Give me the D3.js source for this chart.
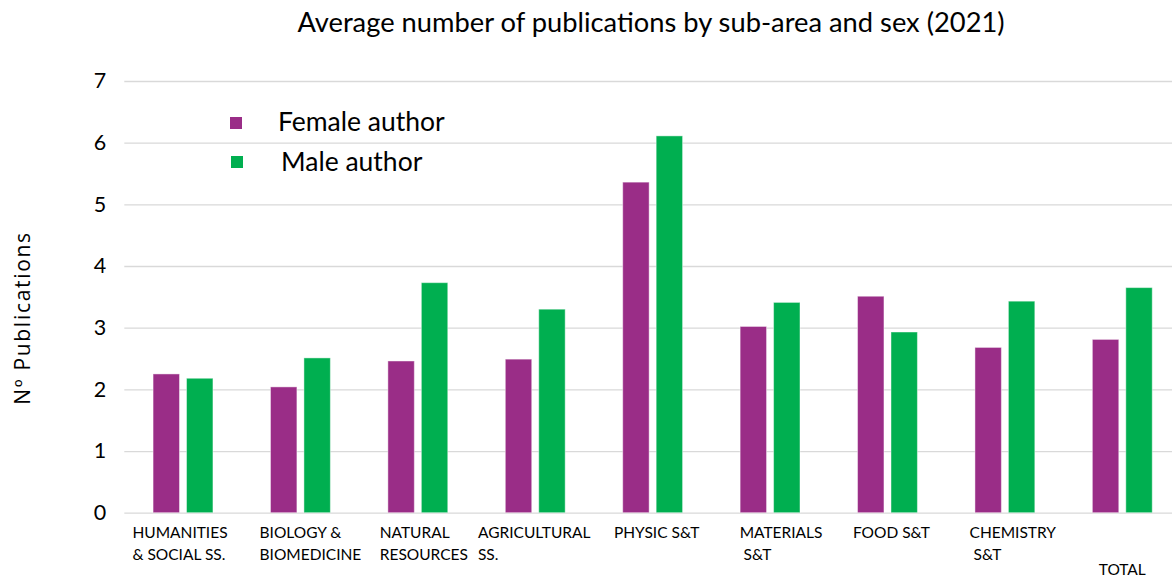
<!DOCTYPE html>
<html>
<head>
<meta charset="utf-8">
<script src="https://cdn.jsdelivr.net/npm/d3@7"></script>
<style>
html,body{margin:0;padding:0;background:#fff;overflow:hidden;}
text{font-family:Lato,"Open Sans",sans-serif;fill:#000;}
</style>
</head>
<body>
<svg id="chart" width="1172" height="578"></svg>
<script>
const categories = ["HUMANITIES\n& SOCIAL SS.","BIOLOGY &\nBIOMEDICINE","NATURAL\nRESOURCES","AGRICULTURAL\nSS.","PHYSIC S&T","MATERIALS\n S&T","FOOD S&T","CHEMISTRY\n S&T","TOTAL"];
const femaleValues = [2.25, 2.04, 2.46, 2.49, 5.36, 3.02, 3.51, 2.68, 2.81];
const maleValues   = [2.18, 2.51, 3.73, 3.30, 6.11, 3.41, 2.93, 3.43, 3.65];
const seriesNames = ["Female author","Male author"];
const yTicks = [0,1,2,3,4,5,6,7];
const titleText = "Average number of publications by sub-area and sex (2021)";
const yAxisTitle = "Nº Publications";

// layout-only tweaks (horizontal nudge of each category label block, px)
const labelShift = [-3, 10, 6, -1, 4, 11, 4, 8, 0];

const colors = ["#9A2D87","#00AF50"];
const svg = d3.select("#chart");
const W = 1172, H = 578;
const mLeft = 124.3, mRight = 1181, mTop = 81, mBottom = 512.7;

const x0 = d3.scaleBand().domain(categories).range([mLeft, mRight]).paddingInner(0.49).paddingOuter(0.245);
const x1 = d3.scaleBand().domain(seriesNames).range([0, x0.bandwidth()]).paddingInner(0.21).paddingOuter(0);
const y = d3.scaleLinear().domain([0,7]).range([mBottom, mTop]);

// gridlines
const yAxis = d3.axisLeft(y).tickValues(yTicks).tickSize(-(W - mLeft)).tickFormat(d3.format("d"));
const gy = svg.append("g").attr("transform",`translate(${mLeft},0)`).call(yAxis);
gy.select(".domain").remove();
gy.selectAll(".tick line").attr("stroke","#d9d9d9").attr("stroke-width",1.3);
gy.selectAll(".tick text").attr("x",-18).attr("font-size","21.5px").attr("fill","#000");

// bars
const data = categories.map((c,i)=>({cat:c, i, vals:[femaleValues[i], maleValues[i]]}));
const groups = svg.append("g").selectAll("g").data(data).join("g")
  .attr("transform", d=>`translate(${x0(d.cat)},0)`);
groups.selectAll("rect").data(d=>d.vals.map((v,j)=>({v, s:seriesNames[j], j})))
  .join("rect")
  .attr("x", d=>x1(d.s))
  .attr("y", d=>y(d.v))
  .attr("width", x1.bandwidth())
  .attr("height", d=>y(0)-y(d.v))
  .attr("fill", d=>colors[d.j])
  .attr("stroke", "rgba(255,255,255,0.45)")
  .attr("stroke-width", 1);

// x labels
const xl = svg.append("g");
data.forEach(d=>{
  const lines = d.cat.split("\n");
  const g = xl.append("g");
  const isTotal = d.cat === "TOTAL";
  const t = g.append("text").attr("font-size","15.5px").attr("xml:space","preserve").style("white-space","pre");
  lines.forEach((ln,i)=>{
    t.append("tspan").attr("x",0).attr("y", (isTotal ? 575 : 538 + i*22)).text(ln);
  });
  const w = t.node().getBBox().width;
  const cx = x0(d.cat) + x0.bandwidth()/2 + labelShift[d.i];
  g.attr("transform",`translate(${cx - w/2},0)`);
});

// title
svg.append("text").attr("x",651).attr("y",32).attr("text-anchor","middle")
  .attr("font-size","27.3px").text(titleText);

// y axis title
svg.append("text").attr("transform","translate(29.5,318) rotate(-90)").attr("text-anchor","middle")
  .style("font-family","'Open Sans',sans-serif").style("letter-spacing","1.7px")
  .attr("font-size","21px").text(yAxisTitle);

// legend
const legend = svg.append("g");
const legPos = [{sx:230, sy:117, tx:278, ty:131},{sx:231, sy:156, tx:281, ty:171}];
seriesNames.forEach((n,i)=>{
  const p = legPos[i];
  legend.append("rect").attr("x",p.sx).attr("y",p.sy).attr("width",12).attr("height",12).attr("fill",colors[i]);
  legend.append("text").attr("x",p.tx).attr("y",p.ty).attr("font-size","26.5px").text(n);
});
</script>
</body>
</html>
